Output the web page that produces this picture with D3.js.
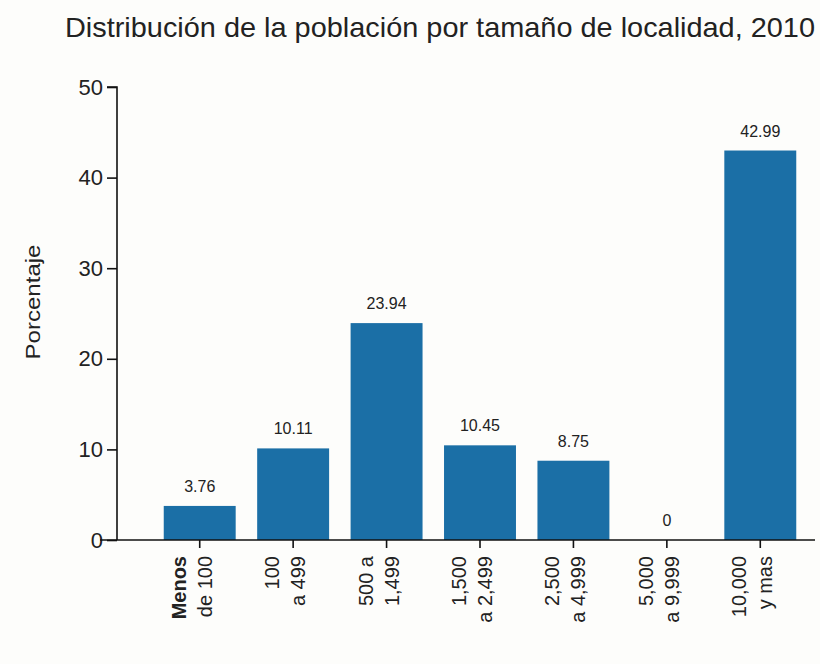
<!DOCTYPE html>
<html><head><meta charset="utf-8">
<script src="https://cdn.jsdelivr.net/npm/d3@7"></script>
<style>
body{margin:0;background:#fdfdfb;}
svg{display:block;}
text{font-family:"Liberation Sans",Arial,sans-serif;fill:#222;}
</style></head>
<body><svg id="c" width="820" height="664"></svg>
<script>
const categories = ["Menos de 100","100 a 499","500 a 1,499","1,500 a 2,499","2,500 a 4,999","5,000 a 9,999","10,000 y mas"];
const categoryLines = [["Menos","de 100"],["100","a 499"],["500 a","1,499"],["1,500","a 2,499"],["2,500","a 4,999"],["5,000","a 9,999"],["10,000","y mas"]];
const values = [3.76, 10.11, 23.94, 10.45, 8.75, 0, 42.99];
const valueLabels = ["3.76","10.11","23.94","10.45","8.75","0","42.99"];
const yTicks = [0,10,20,30,40,50];

const svg = d3.select("#c");
const x = d3.scaleBand().domain(categories).range([153, 807]).paddingInner(0.23).paddingOuter(0.115);
const y = d3.scaleLinear().domain([0,50]).range([540, 87]);

// title
svg.append("text").attr("x",65).attr("y",37).attr("font-size",28)
  .attr("textLength",750).attr("lengthAdjust","spacingAndGlyphs")
  .text("Distribución de la población por tamaño de localidad, 2010");

// y axis
const ya = svg.append("g").attr("transform","translate(117,0)")
  .call(d3.axisLeft(y).tickValues(yTicks).tickSize(10).tickPadding(4));
ya.selectAll("path,line").attr("stroke","#111").attr("stroke-width",1.6);
ya.select(".domain").attr("d","M-10,"+y(50)+"H0V"+y(0));
ya.selectAll("text").attr("font-size",22).attr("fill","#333")
  .style("font-family",'"Liberation Sans",Arial,sans-serif');

svg.append("text").attr("transform","translate(40,302) rotate(-90)")
  .attr("text-anchor","middle").attr("font-size",20).attr("fill","#333")
  .attr("textLength",115).attr("lengthAdjust","spacingAndGlyphs").text("Porcentaje");

// bars
svg.selectAll("rect.bar").data(values).enter().append("rect").attr("class","bar")
  .attr("x",(d,i)=>x(categories[i])).attr("width",x.bandwidth())
  .attr("y",d=>y(d)).attr("height",d=>y(0)-y(d)).attr("fill","#1b6fa6");

// value labels
svg.selectAll("text.val").data(values).enter().append("text").attr("class","val")
  .attr("x",(d,i)=>x(categories[i])+x.bandwidth()/2).attr("y",d=>y(d)-14)
  .attr("text-anchor","middle").attr("font-size",16).attr("fill","#222")
  .text((d,i)=>valueLabels[i]);

// x axis
const xa = svg.append("g").attr("transform","translate(0,"+y(0)+")")
  .call(d3.axisBottom(x).tickSize(8).tickFormat(""));
xa.selectAll("path,line").attr("stroke","#111").attr("stroke-width",1.6);
xa.select(".domain").attr("d","M100,0H815");

// x labels (rotated, two lines)
categories.forEach((c,i)=>{
  const cx = x(c)+x.bandwidth()/2 - 14;
  const t = svg.append("text").attr("transform","translate("+cx+",556) rotate(-90)")
    .attr("text-anchor","end").attr("font-size",20).attr("fill","#222");
  categoryLines[i].forEach((ln,j)=>{
    t.append("tspan").attr("x",0).attr("dy", j===0 ? "0" : "1.3em")
     .attr("font-weight", (i===0&&j===0)?"bold":"normal").text(ln);
  });
});
</script></body></html>
